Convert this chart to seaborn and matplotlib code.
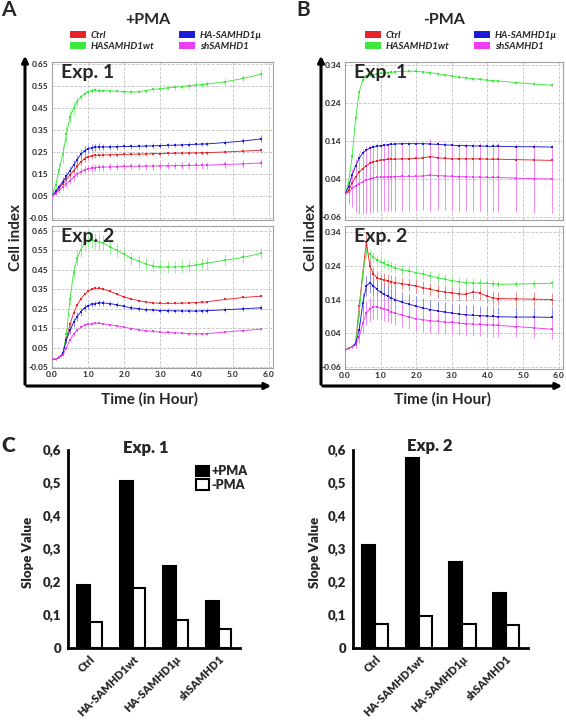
import numpy as np
import pandas as pd
import seaborn as sns
import matplotlib.pyplot as plt
from matplotlib.patches import FancyArrowPatch, Patch

sns.set_style('white')
plt.rcParams['font.family'] = ['Lato', 'DejaVu Sans']

# ---- data: cell index time courses ----
T = [0.0, 0.1, 0.2, 0.3, 0.4, 0.5, 0.6, 0.7, 0.8, 0.9, 1.0, 1.1, 1.2, 1.3, 1.4, 1.6, 1.8,
     2.0, 2.2, 2.4, 2.6, 2.8, 3.0, 3.2, 3.4, 3.6, 3.8, 4.0, 4.15, 4.3, 4.8, 5.3, 5.8]
groups = ['Ctrl', 'HASAMHD1wt', 'HA-SAMHD1µ', 'shSAMHD1']

# +PMA, Exp. 1
a1_ctrl = [0.05, 0.065, 0.085, 0.105, 0.125, 0.145, 0.165, 0.185, 0.205, 0.22, 0.228, 0.232, 0.234, 0.235, 0.236, 0.237, 0.238,
           0.239, 0.24, 0.24, 0.241, 0.242, 0.243, 0.244, 0.244, 0.245, 0.245, 0.246, 0.246, 0.247, 0.25, 0.254, 0.258]
a1_wt = [0.05, 0.10, 0.17, 0.24, 0.33, 0.41, 0.45, 0.48, 0.50, 0.515, 0.525, 0.53, 0.532, 0.53, 0.53, 0.528, 0.527,
         0.525, 0.523, 0.525, 0.53, 0.535, 0.538, 0.542, 0.545, 0.548, 0.552, 0.555, 0.557, 0.56, 0.57, 0.585, 0.605]
a1_mu = [0.05, 0.07, 0.09, 0.115, 0.14, 0.165, 0.19, 0.215, 0.24, 0.255, 0.265, 0.27, 0.272, 0.273, 0.273, 0.273, 0.274,
         0.275, 0.275, 0.276, 0.277, 0.278, 0.279, 0.28, 0.281, 0.282, 0.284, 0.285, 0.286, 0.287, 0.293, 0.30, 0.31]
a1_sh = [0.05, 0.06, 0.075, 0.09, 0.105, 0.12, 0.135, 0.15, 0.16, 0.168, 0.174, 0.177, 0.179, 0.18, 0.181, 0.182, 0.183,
         0.184, 0.185, 0.185, 0.186, 0.186, 0.187, 0.187, 0.188, 0.188, 0.189, 0.189, 0.19, 0.19, 0.193, 0.196, 0.20]
a1_ctrl_sd = [0.005, 0.008, 0.01, 0.012, 0.014, 0.015, 0.016, 0.016, 0.015, 0.014, 0.013, 0.012, 0.011, 0.01, 0.01, 0.009, 0.009,
              0.009, 0.008, 0.008, 0.008, 0.008, 0.008, 0.008, 0.008, 0.008, 0.008, 0.008, 0.008, 0.009, 0.01, 0.011, 0.012]
a1_wt_sd = [0.005, 0.02, 0.03, 0.04, 0.04, 0.03, 0.03, 0.02, 0.015, 0.012, 0.01, 0.01, 0.01, 0.01, 0.008, 0.008, 0.008,
            0.008, 0.008, 0.008, 0.009, 0.01, 0.01, 0.011, 0.012, 0.012, 0.013, 0.014, 0.014, 0.015, 0.015, 0.018, 0.022]
a1_mu_sd = [0.005, 0.01, 0.015, 0.02, 0.02, 0.022, 0.022, 0.022, 0.022, 0.02, 0.018, 0.017, 0.016, 0.016, 0.015, 0.015, 0.014,
            0.013, 0.012, 0.012, 0.011, 0.011, 0.01, 0.01, 0.01, 0.01, 0.01, 0.01, 0.01, 0.01, 0.012, 0.014, 0.016]
a1_sh_sd = [0.005, 0.008, 0.01, 0.012, 0.013, 0.014, 0.015, 0.015, 0.016, 0.016, 0.016, 0.016, 0.016, 0.016, 0.016, 0.016, 0.016,
            0.016, 0.016, 0.016, 0.016, 0.016, 0.016, 0.016, 0.016, 0.016, 0.016, 0.016, 0.016, 0.016, 0.016, 0.017, 0.018]

# +PMA, Exp. 2
a2_ctrl = [-0.01, -0.01, 0.0, 0.02, 0.10, 0.17, 0.23, 0.27, 0.30, 0.325, 0.34, 0.35, 0.355, 0.355, 0.352, 0.34, 0.325,
           0.31, 0.30, 0.292, 0.285, 0.28, 0.278, 0.278, 0.278, 0.279, 0.28, 0.282, 0.284, 0.286, 0.298, 0.308, 0.315]
a2_wt = [-0.01, -0.01, 0.0, 0.02, 0.12, 0.30, 0.44, 0.51, 0.555, 0.585, 0.60, 0.605, 0.60, 0.595, 0.59, 0.57, 0.55,
         0.53, 0.51, 0.495, 0.48, 0.47, 0.465, 0.465, 0.465, 0.467, 0.47, 0.475, 0.48, 0.485, 0.50, 0.515, 0.535]
a2_mu = [-0.01, -0.01, 0.0, 0.02, 0.09, 0.14, 0.18, 0.21, 0.235, 0.255, 0.265, 0.272, 0.277, 0.28, 0.28, 0.277, 0.27,
         0.262, 0.255, 0.25, 0.246, 0.243, 0.241, 0.24, 0.239, 0.239, 0.238, 0.238, 0.239, 0.24, 0.245, 0.25, 0.255]
a2_sh = [-0.01, -0.01, 0.0, 0.01, 0.05, 0.09, 0.12, 0.14, 0.155, 0.165, 0.17, 0.173, 0.175, 0.175, 0.173, 0.168, 0.162,
         0.155, 0.148, 0.142, 0.137, 0.133, 0.13, 0.128, 0.126, 0.124, 0.122, 0.121, 0.121, 0.122, 0.13, 0.138, 0.145]
a2_ctrl_sd = [0.003, 0.003, 0.003, 0.005, 0.008, 0.008, 0.008, 0.007, 0.006, 0.006, 0.005, 0.005, 0.005, 0.005, 0.005, 0.005, 0.005,
              0.005, 0.005, 0.005, 0.005, 0.005, 0.005, 0.005, 0.005, 0.005, 0.005, 0.005, 0.005, 0.005, 0.005, 0.005, 0.005]
a2_wt_sd = [0.005, 0.005, 0.005, 0.01, 0.02, 0.03, 0.035, 0.04, 0.04, 0.04, 0.04, 0.04, 0.04, 0.04, 0.04, 0.038, 0.036,
            0.035, 0.034, 0.033, 0.033, 0.033, 0.033, 0.033, 0.033, 0.033, 0.033, 0.033, 0.033, 0.033, 0.03, 0.03, 0.03]
a2_mu_sd = [0.003, 0.003, 0.003, 0.008, 0.015, 0.02, 0.022, 0.022, 0.02, 0.018, 0.016, 0.015, 0.015, 0.014, 0.014, 0.013, 0.013,
            0.012, 0.012, 0.012, 0.012, 0.012, 0.012, 0.012, 0.012, 0.012, 0.012, 0.012, 0.012, 0.012, 0.012, 0.012, 0.012]
a2_sh_sd = [0.003, 0.003, 0.003, 0.005, 0.008, 0.008, 0.008, 0.008, 0.007, 0.007, 0.006, 0.006, 0.006, 0.006, 0.006, 0.006, 0.006,
            0.006, 0.006, 0.006, 0.006, 0.006, 0.006, 0.006, 0.006, 0.006, 0.006, 0.006, 0.006, 0.006, 0.006, 0.006, 0.006]

# -PMA, Exp. 1
b1_ctrl = [0.0, 0.01, 0.03, 0.045, 0.058, 0.067, 0.075, 0.081, 0.085, 0.088, 0.09, 0.091, 0.092, 0.092, 0.092, 0.093, 0.093,
           0.094, 0.096, 0.099, 0.096, 0.094, 0.093, 0.093, 0.093, 0.093, 0.093, 0.092, 0.092, 0.092, 0.091, 0.09, 0.089]
b1_wt = [0.0, 0.03, 0.10, 0.20, 0.27, 0.30, 0.31, 0.313, 0.315, 0.317, 0.318, 0.319, 0.32, 0.321, 0.322, 0.323, 0.324,
         0.323, 0.322, 0.32, 0.317, 0.314, 0.311, 0.308, 0.306, 0.304, 0.302, 0.30, 0.299, 0.298, 0.294, 0.29, 0.287]
b1_mu = [0.0, 0.02, 0.05, 0.075, 0.095, 0.108, 0.116, 0.121, 0.124, 0.126, 0.128, 0.129, 0.13, 0.131, 0.132, 0.133, 0.133,
         0.133, 0.133, 0.132, 0.131, 0.13, 0.129, 0.128, 0.128, 0.127, 0.127, 0.126, 0.126, 0.126, 0.125, 0.125, 0.124]
b1_sh = [0.0, 0.005, 0.015, 0.022, 0.028, 0.033, 0.037, 0.04, 0.043, 0.044, 0.045, 0.045, 0.046, 0.046, 0.046, 0.047, 0.047,
         0.047, 0.048, 0.05, 0.049, 0.048, 0.047, 0.046, 0.046, 0.045, 0.045, 0.044, 0.044, 0.044, 0.042, 0.041, 0.04]
b1_ctrl_sd = [0.003, 0.01, 0.015, 0.02, 0.025, 0.03, 0.03, 0.03, 0.03, 0.03, 0.03, 0.03, 0.03, 0.03, 0.03, 0.03, 0.03,
              0.03, 0.03, 0.035, 0.03, 0.03, 0.03, 0.03, 0.03, 0.03, 0.03, 0.03, 0.03, 0.03, 0.03, 0.03, 0.03]
b1_wt_sd = [0.003, 0.005, 0.005, 0.005, 0.005, 0.005, 0.005, 0.005, 0.005, 0.005, 0.005, 0.005, 0.005, 0.005, 0.005, 0.005, 0.005,
            0.005, 0.005, 0.005, 0.005, 0.005, 0.005, 0.005, 0.005, 0.005, 0.005, 0.005, 0.005, 0.005, 0.005, 0.005, 0.005]
b1_mu_sd = [0.003, 0.004, 0.004, 0.004, 0.004, 0.004, 0.004, 0.004, 0.004, 0.004, 0.004, 0.004, 0.004, 0.004, 0.004, 0.004, 0.004,
            0.004, 0.004, 0.004, 0.004, 0.004, 0.004, 0.004, 0.004, 0.004, 0.004, 0.004, 0.004, 0.004, 0.004, 0.004, 0.004]
b1_sh_sd = [0.005, 0.03, 0.05, 0.07, 0.08, 0.085, 0.09, 0.09, 0.09, 0.09, 0.09, 0.09, 0.09, 0.09, 0.09, 0.09, 0.09,
            0.09, 0.09, 0.095, 0.09, 0.09, 0.09, 0.09, 0.09, 0.09, 0.09, 0.09, 0.09, 0.09, 0.09, 0.09, 0.09]

# -PMA, Exp. 2
b2_ctrl = [-0.01, -0.005, 0.0, 0.01, 0.12, 0.22, 0.31, 0.24, 0.215, 0.205, 0.20, 0.198, 0.196, 0.193, 0.19, 0.187, 0.184,
           0.18, 0.175, 0.17, 0.166, 0.162, 0.16, 0.157, 0.155, 0.163, 0.158, 0.15, 0.145, 0.143, 0.142, 0.141, 0.14]
b2_wt = [-0.01, -0.005, 0.0, 0.01, 0.10, 0.22, 0.28, 0.275, 0.265, 0.258, 0.252, 0.247, 0.242, 0.238, 0.234, 0.228, 0.224,
         0.22, 0.215, 0.21, 0.205, 0.20, 0.196, 0.193, 0.19, 0.189, 0.188, 0.188, 0.187, 0.185, 0.186, 0.187, 0.188]
b2_mu = [-0.01, -0.005, 0.0, 0.01, 0.05, 0.13, 0.18, 0.19, 0.18, 0.17, 0.162, 0.155, 0.15, 0.145, 0.14, 0.132, 0.126,
         0.12, 0.115, 0.11, 0.106, 0.103, 0.10, 0.097, 0.095, 0.093, 0.092, 0.091, 0.09, 0.089, 0.088, 0.088, 0.087]
b2_sh = [-0.01, -0.005, 0.0, 0.005, 0.03, 0.07, 0.10, 0.112, 0.118, 0.118, 0.116, 0.112, 0.108, 0.104, 0.10, 0.094, 0.088,
         0.083, 0.08, 0.077, 0.075, 0.073, 0.072, 0.07, 0.068, 0.067, 0.066, 0.065, 0.064, 0.063, 0.06, 0.056, 0.052]
b2_ctrl_sd = [0.003, 0.003, 0.003, 0.01, 0.02, 0.02, 0.03, 0.025, 0.02, 0.02, 0.02, 0.02, 0.02, 0.02, 0.02, 0.02, 0.02,
              0.02, 0.02, 0.02, 0.02, 0.02, 0.02, 0.02, 0.02, 0.02, 0.02, 0.02, 0.02, 0.02, 0.02, 0.02, 0.02]
b2_wt_sd = [0.003, 0.003, 0.003, 0.01, 0.015, 0.015, 0.015, 0.015, 0.015, 0.015, 0.015, 0.015, 0.015, 0.015, 0.015, 0.015, 0.015,
            0.015, 0.015, 0.015, 0.015, 0.015, 0.015, 0.015, 0.015, 0.015, 0.015, 0.012, 0.012, 0.01, 0.01, 0.01, 0.01]
b2_mu_sd = [0.003, 0.003, 0.003, 0.01, 0.02, 0.03, 0.03, 0.03, 0.03, 0.03, 0.03, 0.03, 0.03, 0.03, 0.03, 0.03, 0.03,
            0.03, 0.03, 0.03, 0.03, 0.03, 0.03, 0.03, 0.03, 0.03, 0.03, 0.03, 0.03, 0.03, 0.03, 0.03, 0.03]
b2_sh_sd = [0.003, 0.003, 0.003, 0.01, 0.02, 0.03, 0.035, 0.035, 0.035, 0.035, 0.035, 0.035, 0.035, 0.035, 0.035, 0.035, 0.035,
            0.035, 0.035, 0.035, 0.035, 0.035, 0.035, 0.035, 0.035, 0.035, 0.035, 0.035, 0.035, 0.035, 0.03, 0.03, 0.03]

# ---- data: slope values ----
cats = ['Ctrl', 'HA-SAMHD1wt', 'HA-SAMHD1µ', 'shSAMHD1']
exp1_plus = [0.192, 0.507, 0.247, 0.141]
exp1_minus = [0.08, 0.183, 0.085, 0.057]
exp2_plus = [0.311, 0.577, 0.26, 0.166]
exp2_minus = [0.074, 0.098, 0.074, 0.071]

line_colors = {'Ctrl': '#e8242a', 'HASAMHD1wt': '#3ee83e', 'HA-SAMHD1µ': '#1a1ad8', 'shSAMHD1': '#f03cf0'}
err_colors = {'Ctrl': '#f08a8a', 'HASAMHD1wt': '#96f096', 'HA-SAMHD1µ': '#8a8af0', 'shSAMHD1': '#f58af5'}

W, H = 566, 721
fig = plt.figure(figsize=(W / 100, H / 100), dpi=100)


def px_axes(x0, y0, x1, y1):
    return fig.add_axes([x0 / W, 1 - y1 / H, (x1 - x0) / W, (y1 - y0) / H])


def fx(x):
    return x / W


def fy(y):
    return 1 - y / H


def line_panel(ax, vals, sds, ylim, yticks, label, show_x):
    rows = []
    for g, v in zip(groups, vals):
        rows += [{'t': t, 'ci': y, 'g': g} for t, y in zip(T, v)]
    df = pd.DataFrame(rows)
    for g, v, s in zip(groups, vals, sds):
        ax.errorbar(T, v, yerr=s, fmt='none', ecolor=err_colors[g], elinewidth=0.7, zorder=2)
    sns.lineplot(data=df, x='t', y='ci', hue='g', hue_order=groups, palette=line_colors, ax=ax,
                 legend=False, errorbar=None, sort=False, lw=0.65, marker='s', markersize=1.5,
                 markeredgewidth=0, zorder=3)
    ax.set_xlim(0, 6.12)
    ax.set_ylim(*ylim)
    ax.set_yticks(yticks)
    ax.set_yticklabels([f'{v:.2f}' for v in yticks], fontsize=6, fontweight='bold')
    ax.set_xticks([0, 1, 2, 3, 4, 5, 6])
    if show_x:
        ax.set_xticklabels([f'{v:.1f}' for v in range(7)], fontsize=6, fontweight='bold')
    else:
        ax.set_xticklabels([])
    ax.grid(True, ls='--', color='#c4c4c4', lw=0.6)
    ax.tick_params(length=2, width=0.6, color='#999999', direction='in', pad=2.5)
    for sp in ax.spines.values():
        sp.set_color('#a0a0a0')
        sp.set_linewidth(0.8)
    ax.set_xlabel('')
    ax.set_ylabel('')
    ax.text(0.04, 0.985, label, transform=ax.transAxes, va='top', ha='left',
            fontsize=14, fontweight='bold')


a_ticks = [-0.05, 0.05, 0.15, 0.25, 0.35, 0.45, 0.55, 0.65]
b_ticks = [-0.06, 0.04, 0.14, 0.24, 0.34]

axA1 = px_axes(52, 62, 273, 220)
line_panel(axA1, [a1_ctrl, a1_wt, a1_mu, a1_sh], [a1_ctrl_sd, a1_wt_sd, a1_mu_sd, a1_sh_sd],
           (-0.06, 0.66), a_ticks, 'Exp. 1', False)
axA2 = px_axes(52, 226, 273, 368)
line_panel(axA2, [a2_ctrl, a2_wt, a2_mu, a2_sh], [a2_ctrl_sd, a2_wt_sd, a2_mu_sd, a2_sh_sd],
           (-0.055, 0.676), a_ticks, 'Exp. 2', True)
axB1 = px_axes(345, 62, 563, 220)
line_panel(axB1, [b1_ctrl, b1_wt, b1_mu, b1_sh], [b1_ctrl_sd, b1_wt_sd, b1_mu_sd, b1_sh_sd],
           (-0.068, 0.348), b_ticks, 'Exp. 1', False)
axB2 = px_axes(345, 226, 563, 369)
line_panel(axB2, [b2_ctrl, b2_wt, b2_mu, b2_sh], [b2_ctrl_sd, b2_wt_sd, b2_mu_sd, b2_sh_sd],
           (-0.066, 0.358), b_ticks, 'Exp. 2', True)

# big axis arrows, panel titles, legends
for xa, xend, xt, title, letter, xl, legx in [(25, 274, 16, '+PMA', 'A', 8, 70),
                                               (321, 565, 311, '-PMA', 'B', 303, 365)]:
    fig.add_artist(FancyArrowPatch((fx(xa), fy(387)), (fx(xa), fy(53)), transform=fig.transFigure,
                                   arrowstyle='-|>', mutation_scale=9, lw=2.2, color='black'))
    fig.add_artist(FancyArrowPatch((fx(xa - 1), fy(386)), (fx(xend), fy(386)), transform=fig.transFigure,
                                   arrowstyle='-|>', mutation_scale=9, lw=2.2, color='black'))
    fig.text(fx(xt), fy(237), 'Cell index', rotation=90, ha='center', va='center',
             fontsize=11, fontweight='bold')
    fig.text(fx((xa + xend) / 2), fy(399), 'Time (in Hour)', ha='center', va='center',
             fontsize=11, fontweight='bold')
    fig.text(fx(xl), fy(10), letter, ha='center', va='center', fontsize=15, fontweight='bold')
    fig.text(fx(xa + 123), fy(20), title, ha='center', va='center', fontsize=11.5, fontweight='bold')
    handles = [Patch(facecolor=line_colors[g], edgecolor='none') for g in groups]
    fig.legend(handles, groups, loc='upper left', bbox_to_anchor=(fx(legx), fy(31)), ncol=2,
               frameon=False, prop=dict(style='italic', size=7, weight='bold'), handlelength=1.6,
               handleheight=0.75, handletextpad=0.5, columnspacing=2.6, labelspacing=0.2,
               borderpad=0, borderaxespad=0)


# ---- panel C: slope bars ----
def bar_panel(ax, plus, minus, label_x, legend):
    df = pd.DataFrame({'cat': cats * 2, 'cond': ['+PMA'] * 4 + ['-PMA'] * 4, 'slope': plus + minus})
    sns.barplot(data=df, x='cat', y='slope', hue='cond', order=cats, hue_order=['+PMA', '-PMA'],
                palette={'+PMA': 'black', '-PMA': 'white'}, edgecolor='black', linewidth=1.5,
                width=0.6, ax=ax, legend=False)
    ax.set_xlim(-0.5, 3.5)
    ax.set_ylim(0, 0.6)
    yt = [0, 0.1, 0.2, 0.3, 0.4, 0.5, 0.6]
    ax.set_yticks(yt)
    ax.set_yticklabels(['0' if v == 0 else f'{v:.1f}'.replace('.', ',') for v in yt],
                       fontsize=9.5, fontweight='heavy')
    ax.set_xticks([0, 1, 2, 3])
    ax.set_xticklabels(cats, rotation=45, ha='right', rotation_mode='anchor',
                       fontsize=7.8, fontweight='heavy')
    ax.set_xticks([-0.5, 0.5, 1.5, 2.5, 3.5], minor=True)
    ax.tick_params(axis='x', which='major', length=0, pad=4)
    ax.tick_params(axis='x', which='minor', length=3, width=1.5, direction='out')
    ax.tick_params(axis='y', length=3, width=1.5, direction='out', pad=2)
    ax.spines[['top', 'right']].set_visible(False)
    ax.spines[['left', 'bottom']].set_linewidth(2)
    ax.spines['left'].set_color('black')
    ax.spines['bottom'].set_color('black')
    ax.set_xlabel('')
    ax.set_ylabel('')
    fig.text(fx(label_x), fy(552), 'Slope Value', rotation=90, ha='center', va='center',
             fontsize=9.5, fontweight='heavy')
    if legend:
        hs = [Patch(facecolor='black', edgecolor='black', lw=1.5),
              Patch(facecolor='white', edgecolor='black', lw=1.5)]
        fig.legend(hs, ['+PMA', '-PMA'], loc='upper left', bbox_to_anchor=(fx(196), fy(465)),
                   frameon=False, prop=dict(size=9, weight='heavy'), handlelength=1.0,
                   handleheight=0.9, handletextpad=0.2, labelspacing=0.15, borderpad=0,
                   borderaxespad=0)


axC1 = px_axes(68, 450, 240, 648)
bar_panel(axC1, exp1_plus, exp1_minus, 28, True)
fig.text(fx(146), fy(448), 'Exp. 1', ha='center', va='center', fontsize=12, fontweight='heavy')
axC2 = px_axes(353, 450, 528, 648)
bar_panel(axC2, exp2_plus, exp2_minus, 315, False)
fig.text(fx(430), fy(446), 'Exp. 2', ha='center', va='center', fontsize=12, fontweight='heavy')
fig.text(fx(8), fy(446), 'C', ha='center', va='center', fontsize=15, fontweight='heavy')

fig.savefig('out.png', dpi=100)
